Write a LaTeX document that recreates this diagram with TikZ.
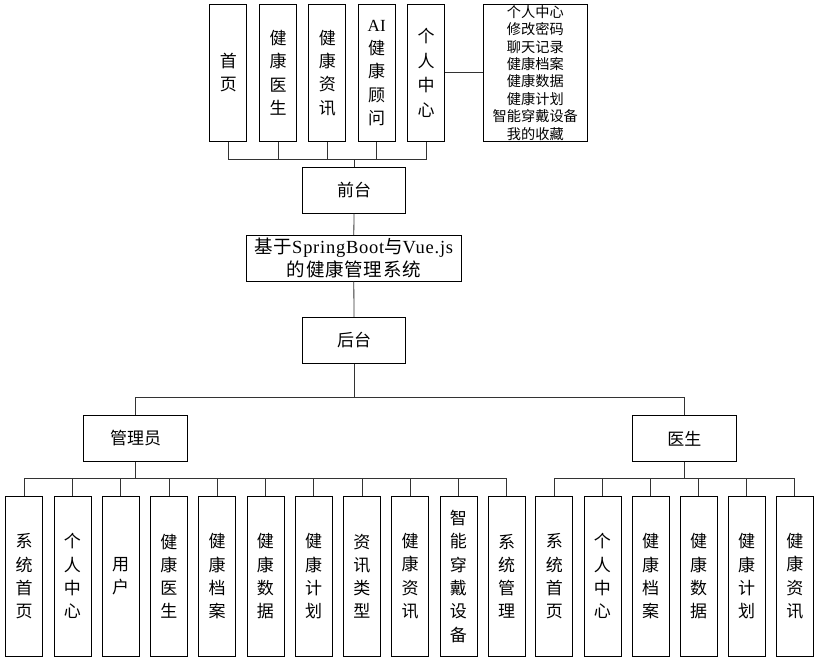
\documentclass[tikz,border=0pt]{standalone}
\usepackage{fontspec}
\setmainfont{Liberation Serif}
\newfontfamily\cjk{Noto Sans CJK SC}
\newfontfamily\cjkls[LetterSpace=4]{Noto Sans CJK SC}
\newfontfamily\serifls[LetterSpace=4]{Liberation Serif}
\begin{document}
\begin{tikzpicture}[x=1pt,y=-1pt,
  box/.style={draw, line width=0.8pt, inner sep=0pt, align=center, font=\cjk\fontsize{17}{23.3}\selectfont},
  vbox/.style={box, minimum width=37pt, minimum height=137.7pt},
  leaf/.style={box, minimum width=37pt, minimum height=160.7pt},
  hbox/.style={box, minimum width=103.7pt, minimum height=46pt},
  conn/.style={line width=0.8pt, draw=black!80}]
\useasboundingbox[fill=white] (0,0) rectangle (827,665);
% top modules
\node[vbox] (t1) at (228.3,72.8) {首\\页};
\node[vbox] (t2) at (278,72.8) {健\\康\\医\\生};
\node[vbox] (t3) at (327.3,72.8) {健\\康\\资\\讯};
\node[vbox] (t4) at (376.7,72.8) {\rmfamily AI\\健\\康\\顾\\问};
\node[vbox, font=\cjk\fontsize{17}{24.5}\selectfont] (t5) at (426,72.8) {个\\人\\中\\心};
\node[box, minimum width=103.3pt, minimum height=137.7pt, font=\cjk\fontsize{14.2}{17.4}\selectfont] (list) at (535.3,72.8)
  {个人中心\\修改密码\\聊天记录\\健康档案\\健康数据\\健康计划\\智能穿戴设备\\我的收藏};
\node[hbox] (front) at (354,190.3) {前台};
\node[box, minimum width=214.3pt, minimum height=45.7pt, font=\cjkls\fontsize{18.5}{22.7}\selectfont] (sys) at (353.8,258.2)
  {基于{\serifls SpringBoot}与{\serifls Vue.js}\\的健康管理系统};
\node[hbox] (back) at (354,340.3) {后台};
\node[hbox] (admin) at (135.5,438.3) {管理员};
\node[hbox] (doc) at (684.3,438.3) {医生};
% admin leaves
\node[leaf] (a1) at (24.2,576.3) {系\\统\\首\\页};
\node[leaf] (a2) at (72.45,576.3) {个\\人\\中\\心};
\node[leaf] (a3) at (120.7,576.3) {用\\户};
\node[leaf] (a4) at (168.95,576.3) {健\\康\\医\\生};
\node[leaf] (a5) at (217.2,576.3) {健\\康\\档\\案};
\node[leaf] (a6) at (265.45,576.3) {健\\康\\数\\据};
\node[leaf] (a7) at (313.7,576.3) {健\\康\\计\\划};
\node[leaf] (a8) at (361.95,576.3) {资\\讯\\类\\型};
\node[leaf] (a9) at (410.2,576.3) {健\\康\\资\\讯};
\node[leaf] (a10) at (458.45,576.3) {智\\能\\穿\\戴\\设\\备};
\node[leaf] (a11) at (506.7,576.3) {系\\统\\管\\理};
% doctor leaves
\node[leaf] (d1) at (554.3,576.3) {系\\统\\首\\页};
\node[leaf] (d2) at (602.4,576.3) {个\\人\\中\\心};
\node[leaf] (d3) at (650.5,576.3) {健\\康\\档\\案};
\node[leaf] (d4) at (698.6,576.3) {健\\康\\数\\据};
\node[leaf] (d5) at (746.7,576.3) {健\\康\\计\\划};
\node[leaf] (d6) at (794.8,576.3) {健\\康\\资\\讯};
% connectors
\coordinate (topbus) at (354,159);
\foreach \n in {t1,t2,t3,t4,t5} \draw[conn] (\n.south) |- (topbus);
\draw[conn] (topbus) -- (front.north);
\draw[conn] (t5.east) -- (list.west);
\draw[conn] (front.south) -- (sys.north);
\draw[conn] (sys.south) -- (back.north);
\coordinate (midbus) at (354,397);
\draw[conn] (back.south) -- (midbus);
\draw[conn] (midbus) -| (admin.north);
\draw[conn] (midbus) -| (doc.north);
\coordinate (abus) at (135.5,478.7);
\draw[conn] (admin.south) -- (abus);
\foreach \n in {a1,a2,a3,a4,a5,a6,a7,a8,a9,a10,a11} \draw[conn] (abus) -| (\n.north);
\coordinate (dbus) at (684.3,478.7);
\draw[conn] (doc.south) -- (dbus);
\foreach \n in {d1,d2,d3,d4,d5,d6} \draw[conn] (dbus) -| (\n.north);
\end{tikzpicture}
\end{document}
